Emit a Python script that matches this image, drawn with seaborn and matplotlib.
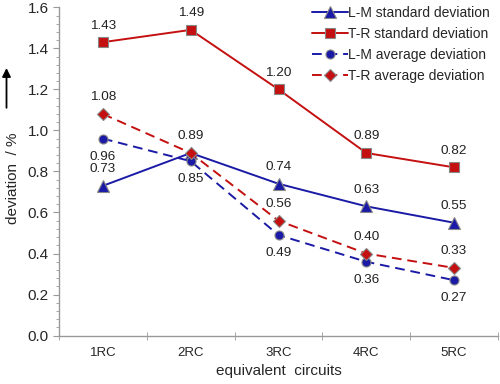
import numpy as np
import pandas as pd
import matplotlib
matplotlib.use("Agg")
import matplotlib.pyplot as plt
import seaborn as sns
from matplotlib.ticker import MultipleLocator

circuits = ["1RC", "2RC", "3RC", "4RC", "5RC"]
lm_std = [0.73, 0.89, 0.74, 0.63, 0.55]
tr_std = [1.43, 1.49, 1.20, 0.89, 0.82]
lm_avg = [0.96, 0.85, 0.49, 0.36, 0.27]
tr_avg = [1.08, 0.89, 0.56, 0.40, 0.33]

series_names = ["L-M standard deviation", "T-R standard deviation",
                "L-M average deviation", "T-R average deviation"]
series_vals = [lm_std, tr_std, lm_avg, tr_avg]

sns.set_style("ticks")
plt.rcParams["font.family"] = ["Liberation Sans", "DejaVu Sans"]

blue = "#1a1aa6"
red = "#c41010"
styles = {
    "L-M standard deviation": dict(color=blue, marker="^", ls="-", ms=9),
    "T-R standard deviation": dict(color=red, marker="s", ls="-", ms=6.5),
    "L-M average deviation": dict(color=blue, marker="o", ls=(0, (5, 3)), ms=6.5),
    "T-R average deviation": dict(color=red, marker="D", ls=(0, (5, 3)), ms=6.5),
}

rows = []
for name, vals in zip(series_names, series_vals):
    for i, v in enumerate(vals):
        rows.append({"pos": i, "circuit": circuits[i], "value": v, "series": name})
df = pd.DataFrame(rows)

fig = plt.figure(figsize=(5, 3.84), dpi=100)
ax = fig.add_axes([0.118, 0.126, 0.878, 0.855])

for name in series_names:
    st = styles[name]
    sns.lineplot(data=df[df.series == name], x="pos", y="value", ax=ax,
                 color=st["color"], marker=st["marker"], linestyle=st["ls"],
                 markersize=st["ms"], markeredgecolor="#888888",
                 markeredgewidth=0.8, linewidth=1.4, label=name)

# value labels
offsets = {
    "L-M standard deviation": [12, 12, 12, 12, 12],
    "T-R standard deviation": [12, 12, 12, 12, 12],
    "L-M average deviation": [-13, -13, -13, -13, -13],
    "T-R average deviation": [12, None, 12, 12, 12],
}
for name, vals in zip(series_names, series_vals):
    for i, v in enumerate(vals):
        off = offsets[name][i]
        if off is None:
            continue
        ax.annotate(f"{v:.2f}", (i, v), xytext=(0, off), textcoords="offset points",
                    ha="center", va="center", fontsize=9.7, color="#222222")

ax.set_xlim(-0.5, 4.5)
ax.set_ylim(0, 1.6)
ax.set_xticks(range(5))
ax.set_xticklabels(circuits)
ax.set_xticks(np.arange(-0.5, 5, 1), minor=True)
ax.tick_params(axis="x", which="major", length=0, pad=8, labelsize=9.5)
ax.tick_params(axis="x", which="minor", length=6, direction="inout", color="#999999")
ax.yaxis.set_major_locator(MultipleLocator(0.2))
ax.yaxis.set_minor_locator(MultipleLocator(0.04))
ax.yaxis.set_major_formatter(matplotlib.ticker.FormatStrFormatter("%.1f"))
ax.tick_params(axis="y", which="major", length=4, color="#999999", labelsize=11)
ax.tick_params(axis="y", which="minor", length=2, color="#999999")
for s in ["top", "right"]:
    ax.spines[s].set_visible(False)
for s in ["left", "bottom"]:
    ax.spines[s].set_color("#999999")
    ax.spines[s].set_linewidth(1.0)

ax.set_xlabel("equivalent  circuits", fontsize=11, labelpad=4)
ax.set_ylabel("")
fig.text(0.026, 0.535, "deviation  / %", rotation=90, ha="center", va="center", fontsize=11)
ax.annotate("", xy=(0.013, 0.83), xytext=(0.013, 0.712), xycoords="figure fraction",
            arrowprops=dict(arrowstyle="-|>,head_width=0.25,head_length=0.5",
                            color="black", lw=1.3))

leg = ax.legend(loc="upper right", bbox_to_anchor=(1.0, 1.03), frameon=False,
                fontsize=10, handlelength=2.6, handletextpad=0.0,
                labelspacing=0.5, borderaxespad=0.2)

fig.savefig("out.png", dpi=100)
